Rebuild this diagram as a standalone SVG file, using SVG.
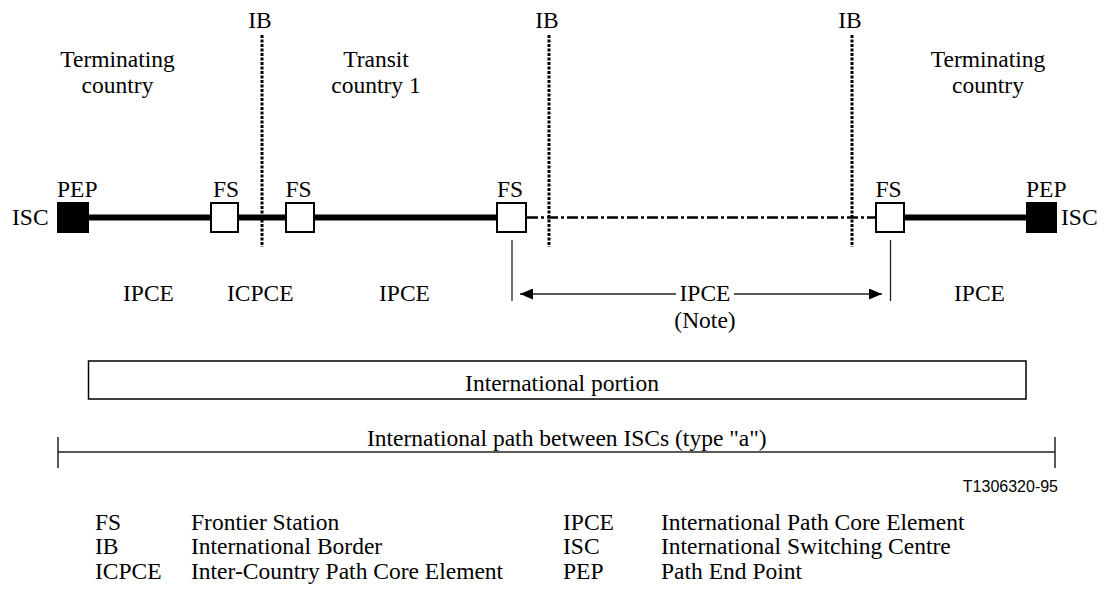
<svg xmlns="http://www.w3.org/2000/svg" width="1105" height="589" viewBox="0 0 1105 589">
<style>
text{font-family:"Liberation Serif","Times New Roman",serif;font-size:23.5px;fill:#000}
.mid{text-anchor:middle}
.code{font-family:"Liberation Sans",Arial,sans-serif;font-size:16px;text-anchor:end}
.fs{fill:#fff;stroke:#000;stroke-width:2}
.pep{fill:#000}
.thick{stroke:#000;stroke-width:6;fill:none}
.dashdot{stroke:#000;stroke-width:2.5;stroke-dasharray:11 3 3 3;fill:none}
.ib{stroke:#000;stroke-width:3;stroke-dasharray:3 1.5;fill:none}
.thin{stroke:#222;stroke-width:1.3;fill:none}
</style>
<defs>
<marker id="ah" viewBox="0 0 13 11" refX="13" refY="5.5" markerWidth="13" markerHeight="11" markerUnits="userSpaceOnUse" orient="auto-start-reverse">
<path d="M0,0 L13,5.5 L0,11 z" fill="#000"/>
</marker>
</defs>
<rect width="1105" height="589" fill="#fff"/>

<g id="borders">
<line class="ib" x1="262" y1="35" x2="262" y2="247"/>
<line class="ib" x1="549" y1="35" x2="549" y2="247"/>
<line class="ib" x1="852" y1="35" x2="852" y2="247"/>
<text class="mid" x="260" y="28">IB</text>
<text class="mid" x="547" y="28">IB</text>
<text class="mid" x="850" y="28">IB</text>
</g>

<g id="regions">
<text class="mid" x="117.5" y="66.5">Terminating</text>
<text class="mid" x="117.5" y="93">country</text>
<text class="mid" x="376" y="66.5">Transit</text>
<text class="mid" x="376" y="93">country 1</text>
<text class="mid" x="988" y="66.5">Terminating</text>
<text class="mid" x="988" y="93">country</text>
</g>

<g id="connectors">
<line class="thick" x1="89" y1="217.5" x2="211" y2="217.5"/>
<line class="thick" x1="238" y1="217.5" x2="286" y2="217.5"/>
<line class="thick" x1="314" y1="217.5" x2="497" y2="217.5"/>
<line class="dashdot" x1="527" y1="217.5" x2="876" y2="217.5"/>
<line class="thick" x1="904" y1="217.5" x2="1026" y2="217.5"/>
<line class="thin" x1="512" y1="240" x2="512" y2="301"/>
<line class="thin" x1="890.5" y1="240" x2="890.5" y2="301"/>
<line class="thin" x1="520" y1="294" x2="676" y2="294" marker-start="url(#ah)"/>
<line class="thin" x1="734" y1="294" x2="882" y2="294" marker-end="url(#ah)"/>
</g>

<g id="pep-left">
<rect class="pep" x="57" y="202" width="32" height="31"/>
<text x="57" y="197">PEP</text>
<text x="12" y="225">ISC</text>
</g>
<g id="fs1">
<rect class="fs" x="211" y="203" width="27" height="29"/>
<text class="mid" x="226" y="197">FS</text>
</g>
<g id="fs2">
<rect class="fs" x="286" y="203" width="28" height="29"/>
<text class="mid" x="298.5" y="197">FS</text>
</g>
<g id="fs3">
<rect class="fs" x="497" y="203" width="29" height="29"/>
<text class="mid" x="510" y="197">FS</text>
</g>
<g id="fs4">
<rect class="fs" x="876" y="203" width="28" height="29"/>
<text class="mid" x="888.5" y="197">FS</text>
</g>
<g id="pep-right">
<rect class="pep" x="1026" y="202" width="31" height="31"/>
<text x="1026" y="197">PEP</text>
<text x="1061" y="225">ISC</text>
</g>

<g id="elements">
<text x="123" y="301">IPCE</text>
<text x="227" y="301">ICPCE</text>
<text x="379" y="301">IPCE</text>
<text class="mid" x="705" y="301">IPCE</text>
<text class="mid" x="705" y="328">(Note)</text>
<text x="954" y="301">IPCE</text>
</g>

<g id="international-portion">
<rect x="88.5" y="361" width="937.5" height="38" fill="none" stroke="#000" stroke-width="1.5"/>
<text class="mid" x="562" y="391">International portion</text>
</g>

<g id="international-path">
<line x1="58" y1="452" x2="1055" y2="452" stroke="#222" stroke-width="1.5"/>
<line x1="58" y1="437" x2="58" y2="468" stroke="#222" stroke-width="1.5"/>
<line x1="1055" y1="437" x2="1055" y2="468" stroke="#222" stroke-width="1.5"/>
<text x="367" y="446">International path between ISCs (type "a")</text>
</g>

<text class="code" x="1058" y="492">T1306320-95</text>

<g id="legend">
<text x="95" y="530">FS</text>
<text x="191" y="530">Frontier Station</text>
<text x="95" y="554">IB</text>
<text x="191" y="554">International Border</text>
<text x="95" y="579">ICPCE</text>
<text x="191" y="579">Inter-Country Path Core Element</text>
<text x="563" y="530">IPCE</text>
<text x="661" y="530">International Path Core Element</text>
<text x="563" y="554">ISC</text>
<text x="661" y="554">International Switching Centre</text>
<text x="563" y="579">PEP</text>
<text x="661" y="579">Path End Point</text>
</g>
</svg>
